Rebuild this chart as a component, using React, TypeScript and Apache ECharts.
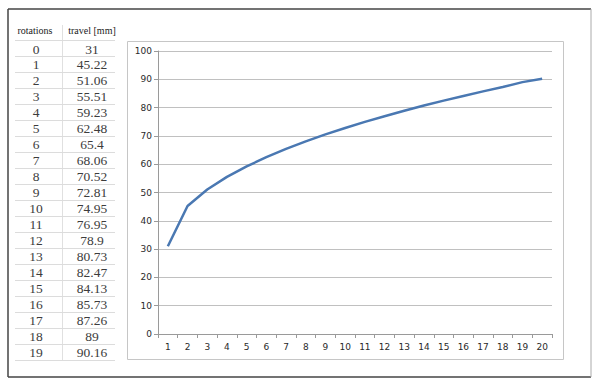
import React, { useEffect, useRef } from "react";
import * as echarts from "echarts";

const rotations = [0, 1, 2, 3, 4, 5, 6, 7, 8, 9, 10, 11, 12, 13, 14, 15, 16, 17, 18, 19];
const travel = [31, 45.22, 51.06, 55.51, 59.23, 62.48, 65.4, 68.06, 70.52, 72.81, 74.95, 76.95, 78.9, 80.73, 82.47, 84.13, 85.73, 87.26, 89, 90.16];
const travelLabels = ["31", "45.22", "51.06", "55.51", "59.23", "62.48", "65.4", "68.06", "70.52", "72.81", "74.95", "76.95", "78.9", "80.73", "82.47", "84.13", "85.73", "87.26", "89", "90.16"];
const xCategories = ["1", "2", "3", "4", "5", "6", "7", "8", "9", "10", "11", "12", "13", "14", "15", "16", "17", "18", "19", "20"];
const headers = ["rotations", "travel [mm]"];

export default function App() {
  const ref = useRef<HTMLDivElement>(null);
  useEffect(() => {
    if (!ref.current) return;
    const chart = echarts.init(ref.current, null, { renderer: "svg" });
    const serif = "'Liberation Serif', 'Times New Roman', serif";
    const rowH = 15.98;
    const graphics: any[] = [];
    // outer frame
    graphics.push({ type: "line", shape: { x1: 8, y1: 9, x2: 591, y2: 9 }, style: { stroke: "#444", lineWidth: 1.5 } });
    graphics.push({ type: "line", shape: { x1: 8, y1: 9, x2: 8, y2: 377 }, style: { stroke: "#444", lineWidth: 1.5 } });
    graphics.push({ type: "line", shape: { x1: 8, y1: 377, x2: 591, y2: 377 }, style: { stroke: "#444", lineWidth: 1.5 } });
    graphics.push({ type: "line", shape: { x1: 591, y1: 9, x2: 591, y2: 377 }, style: { stroke: "#aaa", lineWidth: 1 } });
    // chart box
    graphics.push({ type: "rect", shape: { x: 127.5, y: 41.5, width: 436, height: 318 }, style: { fill: "none", stroke: "#c6c6c6", lineWidth: 1 } });
    // table
    graphics.push({ type: "line", shape: { x1: 62.5, y1: 25, x2: 62.5, y2: 360 }, style: { stroke: "#e0e0e0", lineWidth: 1 } });
    headers.forEach((h, i) => {
      graphics.push({ type: "text", x: i === 0 ? 35 : 92, y: 30, style: { text: h, font: `10px ${serif}`, fill: "#222", align: "center", verticalAlign: "middle" } });
    });
    for (let k = 0; k <= rotations.length; k++) {
      const y = Math.round(40 + rowH * k) + 0.5;
      graphics.push({ type: "line", shape: { x1: 15, y1: y, x2: 115, y2: y }, style: { stroke: "#dcdcdc", lineWidth: 1 } });
    }
    rotations.forEach((r, i) => {
      const y = 49 + rowH * i;
      graphics.push({ type: "text", x: 36, y, style: { text: String(r), font: `13.5px ${serif}`, fill: "#3c3c3c", align: "center", verticalAlign: "middle" } });
      graphics.push({ type: "text", x: 92, y, style: { text: travelLabels[i], font: `13.5px ${serif}`, fill: "#3c3c3c", align: "center", verticalAlign: "middle" } });
    });

    chart.setOption({
      animation: false,
      backgroundColor: "#fff",
      grid: { left: 158, right: 48, top: 51, bottom: 50, containLabel: false },
      xAxis: {
        type: "category",
        data: xCategories,
        boundaryGap: true,
        axisLine: { lineStyle: { color: "#9a9a9a", width: 1 } },
        axisTick: { show: true, length: 4, lineStyle: { color: "#9a9a9a" } },
        axisLabel: { color: "#2a2a2a", fontSize: 9, fontFamily: "'DejaVu Sans', sans-serif", margin: 8, interval: 0 },
      },
      yAxis: {
        type: "value",
        min: 0,
        max: 100,
        interval: 10,
        axisLine: { show: true, lineStyle: { color: "#9a9a9a", width: 1 } },
        axisTick: { show: true, length: 4, lineStyle: { color: "#9a9a9a" } },
        axisLabel: { color: "#2a2a2a", fontSize: 9, fontFamily: "'DejaVu Sans', sans-serif", margin: 6 },
        splitLine: { show: true, lineStyle: { color: "#c0c0c0", width: 1 } },
      },
      series: [
        {
          type: "line",
          data: travel,
          symbol: "none",
          lineStyle: { color: "#4a78b2", width: 2.5 },
        },
      ],
      graphic: graphics,
    });
    return () => chart.dispose();
  }, []);
  return <div ref={ref} style={{ position: "fixed", left: 0, top: 0, width: 600, height: 384, background: "#fff" }} />;
}
